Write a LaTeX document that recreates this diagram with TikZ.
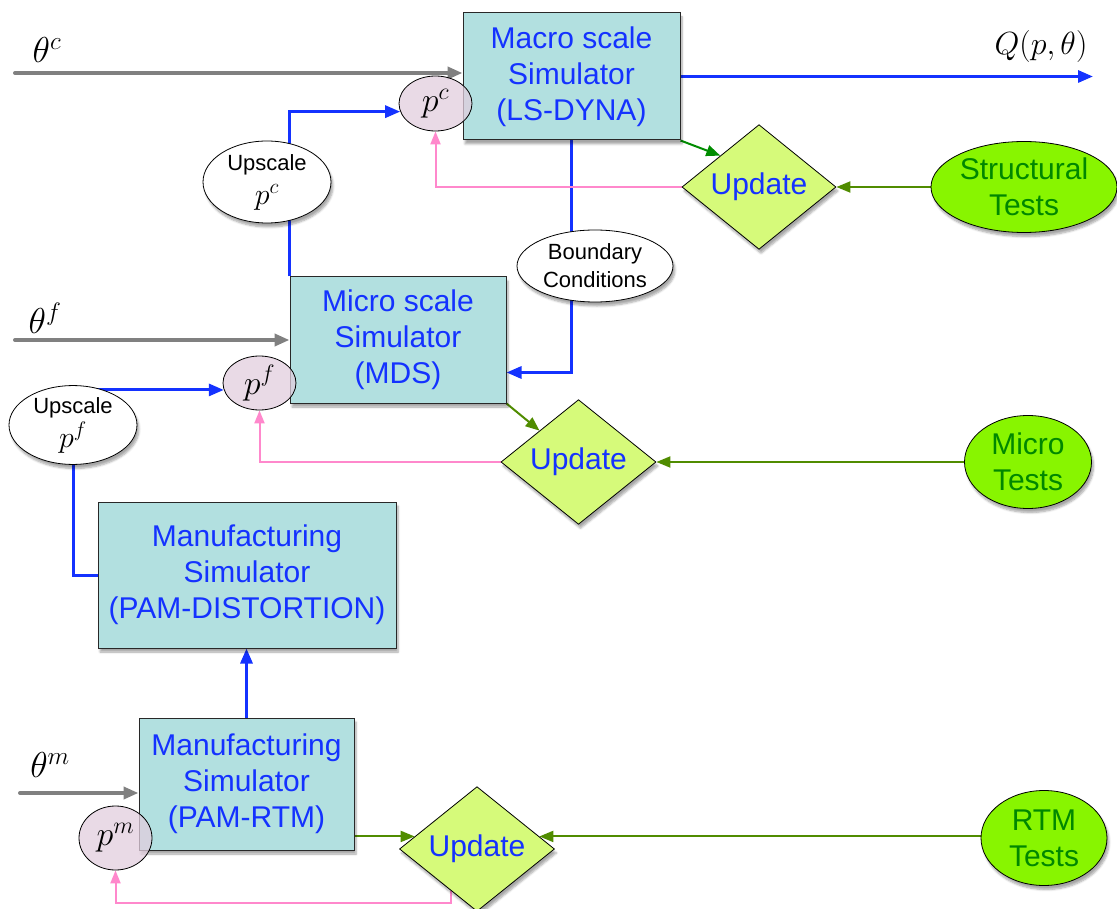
\RequirePackage{fix-cm}
\documentclass[tikz,border=0pt]{standalone}
\usepackage{fontspec}
\setmainfont{Liberation Sans}
\usetikzlibrary{arrows.meta,shapes.geometric,calc,shadows,shadows.blur,backgrounds}

\definecolor{boxfill}{RGB}{178,224,224}
\definecolor{boxdraw}{RGB}{40,40,40}
\definecolor{txtblue}{RGB}{20,50,255}
\definecolor{pinkline}{RGB}{255,136,204}
\definecolor{arrgray}{RGB}{128,128,128}
\definecolor{updfill}{RGB}{214,250,122}
\definecolor{testfill}{RGB}{136,245,0}
\definecolor{testtext}{RGB}{0,135,0}
\definecolor{olive}{RGB}{80,140,0}
\definecolor{dgreen}{RGB}{0,140,0}
\definecolor{pfill}{RGB}{226,206,222}

\tikzset{
  softshadow/.style={blur shadow={shadow xshift=2pt,shadow yshift=-4pt,shadow blur steps=6,shadow opacity=35}},
  simbox/.style={draw=boxdraw, line width=1pt, fill=boxfill, softshadow,
    font=\fontsize{30}{36}\selectfont, text=txtblue, align=center, inner sep=0pt},
  parnode/.style={ellipse, draw=black, line width=0.8pt, fill=pfill, fill opacity=0.75,
    text opacity=1, inner sep=0pt, font=\fontsize{34}{34}\selectfont},
  upnode/.style={ellipse, draw=black, line width=0.8pt, fill=white, softshadow,
    inner sep=0pt, align=center, font=\fontsize{22}{34}\selectfont},
  updnode/.style={diamond, draw=black, line width=0.8pt, fill=updfill, softshadow,
    inner sep=0pt, font=\fontsize{30}{36}\selectfont, text=txtblue},
  testnode/.style={ellipse, draw=black, line width=0.8pt, fill=testfill, softshadow,
    inner sep=0pt, align=center, text=testtext, font=\fontsize{30}{36}\selectfont},
  mathlbl/.style={inner sep=0pt, font=\fontsize{36}{36}\selectfont},
  tip/.style={-{Triangle[length=15pt,width=12pt]}},
  grayarr/.style={tip, draw=arrgray, line width=4pt, line cap=round},
  bluearr/.style={tip, draw=txtblue, line width=3pt},
  pinkarr/.style={-{Triangle[length=13pt,width=10pt]}, draw=pinkline, line width=2pt},
  greenarr/.style={-{Triangle[length=14pt,width=11pt]}, draw=olive, line width=2pt},
}

\begin{document}
\begin{tikzpicture}[x=1pt,y=-1pt]
\useasboundingbox (0,0) rectangle (1117,909);

% simulators
\node[simbox, minimum width=217pt, minimum height=127pt] (macro) at (571.5,76.5)
  {Macro scale\\Simulator\\(LS-DYNA)};
\node[simbox, minimum width=216pt, minimum height=126pt] (micro) at (398,340)
  {Micro scale\\Simulator\\(MDS)};
\node[simbox, minimum width=298pt, minimum height=146pt] (dist) at (247,575)
  {Manufacturing\\Simulator\\(PAM-DISTORTION)};
\node[simbox, minimum width=215pt, minimum height=132pt] (rtm) at (246.5,784)
  {Manufacturing\\Simulator\\(PAM-RTM)};

% parameter ellipses
\node[parnode, minimum width=73pt, minimum height=55pt] (pc) at (435.5,103.5) {$p^c$};
\node[parnode, minimum width=73pt, minimum height=54pt] (pf) at (259.5,383) {$p^f$};
\node[parnode, minimum width=73pt, minimum height=64pt] (pm) at (115.5,838) {$p^m$};

% upscaling and coupling
\node[upnode, minimum width=128pt, minimum height=82pt] (uppc) at (267,182)
  {Upscale\\{\fontsize{30}{30}\selectfont$p^c$}};
\node[upnode, minimum width=128pt, minimum height=76pt] (uppf) at (73,425)
  {Upscale\\{\fontsize{30}{30}\selectfont$p^f$}};
\node[upnode, minimum width=156pt, minimum height=72pt, font=\fontsize{22}{28}\selectfont]
  (bc) at (595,266) {Boundary\\Conditions};

% update steps
\node[updnode, minimum width=154pt, minimum height=94pt] (up1) at (759,187) {Update};
\node[updnode, minimum width=155pt, minimum height=95pt] (up2) at (578.5,462) {Update};
\node[updnode, minimum width=155pt, minimum height=110pt] (up3) at (477,849) {Update};

% tests
\node[testnode, minimum width=186pt, minimum height=91pt] (st) at (1024,187) {Structural\\Tests};
\node[testnode, minimum width=127pt, minimum height=93pt] (mt) at (1028,462) {Micro\\Tests};
\node[testnode, minimum width=126pt, minimum height=95pt] (rt) at (1044,838) {RTM\\Tests};

% input / output labels
\node[mathlbl] (thcl) at (47,50) {$\theta^c$};
\node[mathlbl] (thfl) at (45,318) {$\theta^f$};
\node[mathlbl] (thml) at (50,765) {$\theta^m$};
\node[mathlbl, font=\fontsize{32}{32}\selectfont] (ql) at (1041,47) {$Q(p,\theta)$};

\coordinate (thc) at (15,73);
\coordinate (thf) at (15,340);
\coordinate (thm) at (20,793);
\coordinate (qend) at (1093,76.5);

\begin{pgfonlayer}{background}
  % inputs and output
  \draw[grayarr] (thc) -- (thc -| macro.west);
  \draw[grayarr] (thf) -- (thf -| micro.west);
  \draw[grayarr] (thm) -- (thm -| rtm.west);
  \draw[bluearr] (macro.east) -- (qend);

  % scale coupling
  \draw[bluearr] (micro.north west) |- (pc.193);
  \draw[bluearr] (dist.west) -| (uppf.center) |- (pf.191);
  \draw[bluearr] (macro.south) |- ($(micro.south east)+(0,-31)$);
  \draw[bluearr] (rtm.north) -- (rtm.north |- dist.south);

  % calibration loops
  \draw[pinkarr] (up1.west) -| (pc.south);
  \draw[pinkarr] (up2.west) -| (pf.south);
  \coordinate (up3out) at ($(up3.west)!0.67!(up3.south)$);
  \draw[pinkarr] (up3out) -- (up3out |- 0,903) -| (pm.south);

  \draw[greenarr, draw=dgreen] (macro.south east) -- (up1.north west);
  \draw[greenarr] (st.west) -- (up1.east);
  \draw[greenarr] (micro.south east) -- (up2.north west);
  \draw[greenarr] (mt.west) -- (up2.east);
  \coordinate (up3l) at ($(up3.west)!0.2!(up3.north)$);
  \coordinate (up3r) at ($(up3.east)!0.2!(up3.north)$);
  \draw[greenarr] (up3l -| rtm.east) -- (up3l);
  \draw[greenarr] (rt.west |- up3r) -- (up3r);
\end{pgfonlayer}
\end{tikzpicture}
\end{document}
